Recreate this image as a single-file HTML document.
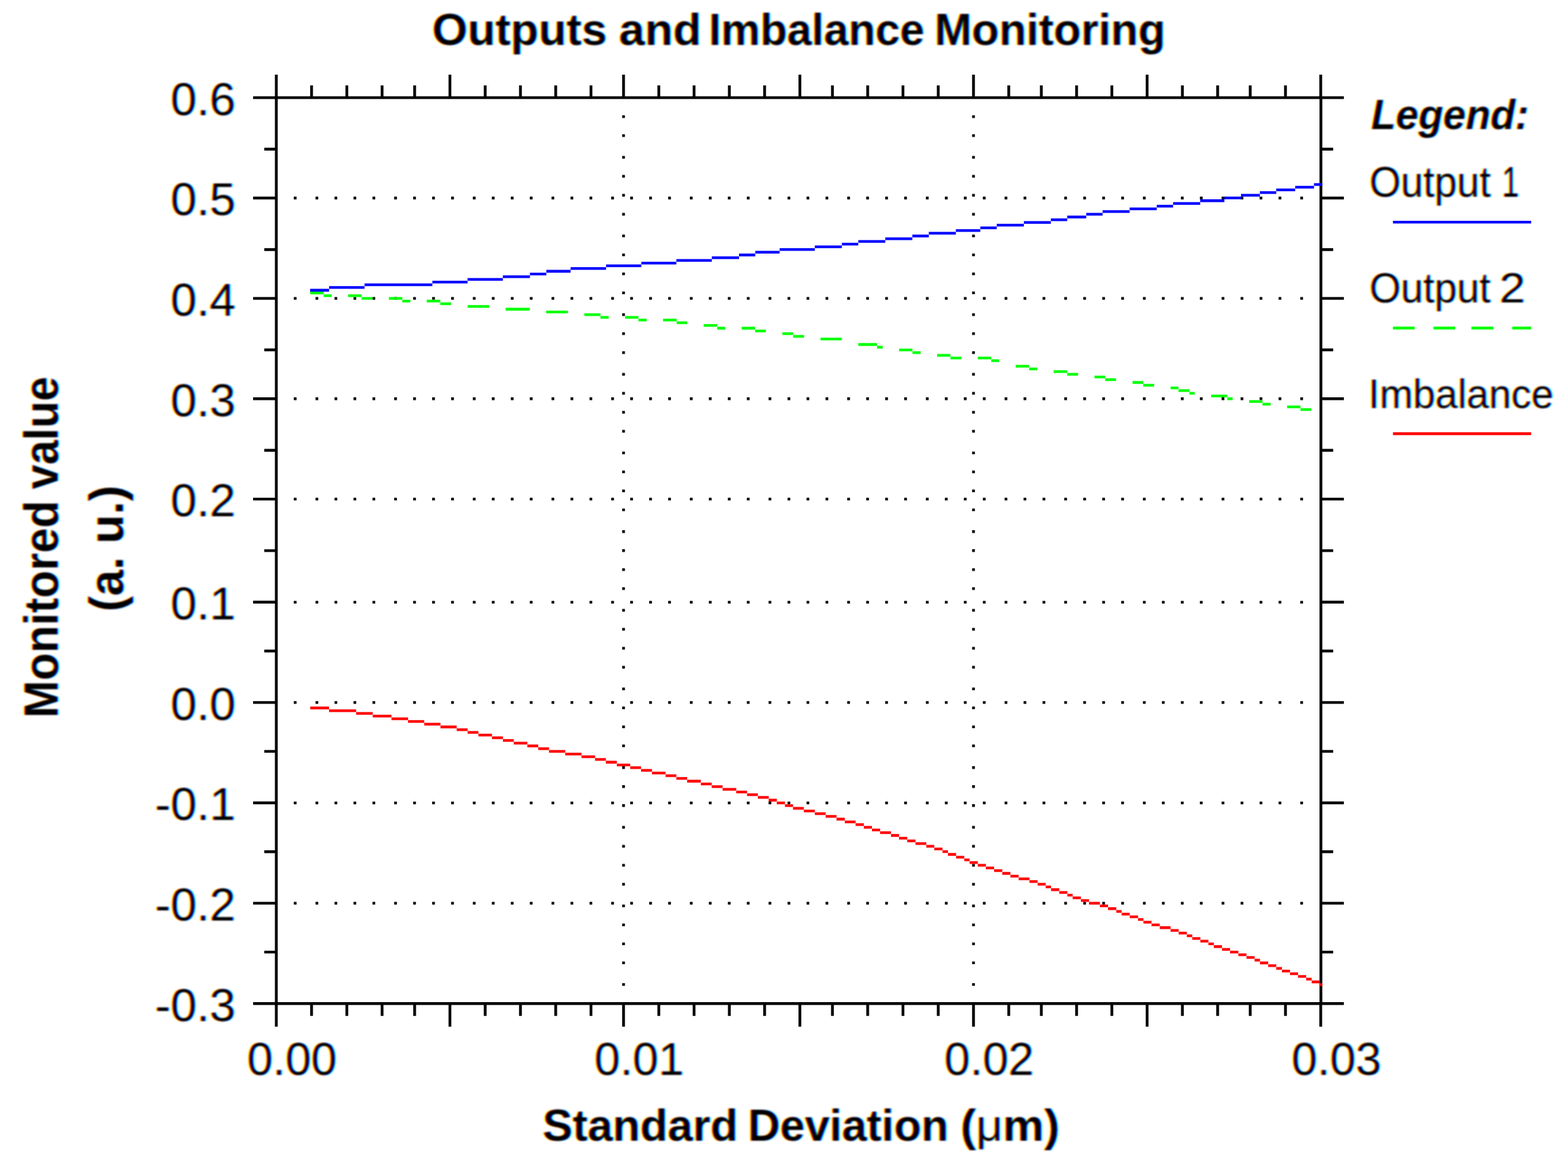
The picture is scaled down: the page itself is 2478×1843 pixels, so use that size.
<!DOCTYPE html>
<html><head><meta charset="utf-8"><title>Outputs and Imbalance Monitoring</title>
<style>html,body{margin:0;padding:0;background:#fff;overflow:hidden}svg{display:block}</style></head>
<body><svg width="2478" height="1843" viewBox="0 0 2478 1843" font-family="'Liberation Sans', Arial, sans-serif" fill="#000">
<defs><filter id="ct" x="-5%" y="-5%" width="110%" height="110%" color-interpolation-filters="sRGB">
<feOffset in="SourceAlpha" dx="2.0" result="r0"/><feGaussianBlur in="r0" stdDeviation="0.9" result="r"/>
<feOffset in="SourceAlpha" dx="-2.0" result="b0"/><feGaussianBlur in="b0" stdDeviation="0.9" result="b"/>
<feGaussianBlur in="SourceAlpha" stdDeviation="0.9" result="g"/>
<feColorMatrix in="r" type="matrix" values="0 0 0 -1 1 0 0 0 0 1 0 0 0 0 1 0 0 0 0 1" result="rc"/>
<feColorMatrix in="g" type="matrix" values="0 0 0 0 1 0 0 0 -1 1 0 0 0 0 1 0 0 0 0 1" result="gc"/>
<feColorMatrix in="b" type="matrix" values="0 0 0 0 1 0 0 0 0 1 0 0 0 -1 1 0 0 0 0 1" result="bc"/>
<feBlend in="rc" in2="gc" mode="multiply" result="rg"/><feBlend in="rg" in2="bc" mode="multiply" result="m"/><feColorMatrix in="m" type="saturate" values="0.85"/>
</filter></defs>
<rect width="2478" height="1843" fill="#fff"/>
<path d="M464.35,310.84h4.3v4.287h-4.3zM498.65,310.84h4.3v4.287h-4.3zM528.66,310.84h4.3v4.287h-4.3zM558.67,310.84h4.3v4.287h-4.3zM588.68,310.84h4.3v4.287h-4.3zM622.98,310.84h4.3v4.287h-4.3zM652.99,310.84h4.3v4.287h-4.3zM683.00,310.84h4.3v4.287h-4.3zM713.01,310.84h4.3v4.287h-4.3zM747.31,310.84h4.3v4.287h-4.3zM777.32,310.84h4.3v4.287h-4.3zM807.33,310.84h4.3v4.287h-4.3zM837.34,310.84h4.3v4.287h-4.3zM871.64,310.84h4.3v4.287h-4.3zM901.65,310.84h4.3v4.287h-4.3zM931.66,310.84h4.3v4.287h-4.3zM965.96,310.84h4.3v4.287h-4.3zM995.97,310.84h4.3v4.287h-4.3zM1025.98,310.84h4.3v4.287h-4.3zM1055.99,310.84h4.3v4.287h-4.3zM1090.29,310.84h4.3v4.287h-4.3zM1120.30,310.84h4.3v4.287h-4.3zM1150.31,310.84h4.3v4.287h-4.3zM1180.32,310.84h4.3v4.287h-4.3zM1214.62,310.84h4.3v4.287h-4.3zM1244.63,310.84h4.3v4.287h-4.3zM1274.65,310.84h4.3v4.287h-4.3zM1304.66,310.84h4.3v4.287h-4.3zM1338.95,310.84h4.3v4.287h-4.3zM1368.97,310.84h4.3v4.287h-4.3zM1398.98,310.84h4.3v4.287h-4.3zM1428.99,310.84h4.3v4.287h-4.3zM1463.29,310.84h4.3v4.287h-4.3zM1493.30,310.84h4.3v4.287h-4.3zM1523.31,310.84h4.3v4.287h-4.3zM1553.32,310.84h4.3v4.287h-4.3zM1587.62,310.84h4.3v4.287h-4.3zM1617.63,310.84h4.3v4.287h-4.3zM1647.64,310.84h4.3v4.287h-4.3zM1681.94,310.84h4.3v4.287h-4.3zM1711.95,310.84h4.3v4.287h-4.3zM1741.96,310.84h4.3v4.287h-4.3zM1771.97,310.84h4.3v4.287h-4.3zM1806.27,310.84h4.3v4.287h-4.3zM1836.28,310.84h4.3v4.287h-4.3zM1866.29,310.84h4.3v4.287h-4.3zM1896.30,310.84h4.3v4.287h-4.3zM1930.60,310.84h4.3v4.287h-4.3zM1960.61,310.84h4.3v4.287h-4.3zM1990.62,310.84h4.3v4.287h-4.3zM2020.63,310.84h4.3v4.287h-4.3zM2054.93,310.84h4.3v4.287h-4.3zM464.35,469.46h4.3v4.287h-4.3zM498.65,469.46h4.3v4.287h-4.3zM528.66,469.46h4.3v4.287h-4.3zM558.67,469.46h4.3v4.287h-4.3zM588.68,469.46h4.3v4.287h-4.3zM622.98,469.46h4.3v4.287h-4.3zM652.99,469.46h4.3v4.287h-4.3zM683.00,469.46h4.3v4.287h-4.3zM713.01,469.46h4.3v4.287h-4.3zM747.31,469.46h4.3v4.287h-4.3zM777.32,469.46h4.3v4.287h-4.3zM807.33,469.46h4.3v4.287h-4.3zM837.34,469.46h4.3v4.287h-4.3zM871.64,469.46h4.3v4.287h-4.3zM901.65,469.46h4.3v4.287h-4.3zM931.66,469.46h4.3v4.287h-4.3zM965.96,469.46h4.3v4.287h-4.3zM995.97,469.46h4.3v4.287h-4.3zM1025.98,469.46h4.3v4.287h-4.3zM1055.99,469.46h4.3v4.287h-4.3zM1090.29,469.46h4.3v4.287h-4.3zM1120.30,469.46h4.3v4.287h-4.3zM1150.31,469.46h4.3v4.287h-4.3zM1180.32,469.46h4.3v4.287h-4.3zM1214.62,469.46h4.3v4.287h-4.3zM1244.63,469.46h4.3v4.287h-4.3zM1274.65,469.46h4.3v4.287h-4.3zM1304.66,469.46h4.3v4.287h-4.3zM1338.95,469.46h4.3v4.287h-4.3zM1368.97,469.46h4.3v4.287h-4.3zM1398.98,469.46h4.3v4.287h-4.3zM1428.99,469.46h4.3v4.287h-4.3zM1463.29,469.46h4.3v4.287h-4.3zM1493.30,469.46h4.3v4.287h-4.3zM1523.31,469.46h4.3v4.287h-4.3zM1553.32,469.46h4.3v4.287h-4.3zM1587.62,469.46h4.3v4.287h-4.3zM1617.63,469.46h4.3v4.287h-4.3zM1647.64,469.46h4.3v4.287h-4.3zM1681.94,469.46h4.3v4.287h-4.3zM1711.95,469.46h4.3v4.287h-4.3zM1741.96,469.46h4.3v4.287h-4.3zM1771.97,469.46h4.3v4.287h-4.3zM1806.27,469.46h4.3v4.287h-4.3zM1836.28,469.46h4.3v4.287h-4.3zM1866.29,469.46h4.3v4.287h-4.3zM1896.30,469.46h4.3v4.287h-4.3zM1930.60,469.46h4.3v4.287h-4.3zM1960.61,469.46h4.3v4.287h-4.3zM1990.62,469.46h4.3v4.287h-4.3zM2020.63,469.46h4.3v4.287h-4.3zM2054.93,469.46h4.3v4.287h-4.3zM464.35,628.09h4.3v4.287h-4.3zM498.65,628.09h4.3v4.287h-4.3zM528.66,628.09h4.3v4.287h-4.3zM558.67,628.09h4.3v4.287h-4.3zM588.68,628.09h4.3v4.287h-4.3zM622.98,628.09h4.3v4.287h-4.3zM652.99,628.09h4.3v4.287h-4.3zM683.00,628.09h4.3v4.287h-4.3zM713.01,628.09h4.3v4.287h-4.3zM747.31,628.09h4.3v4.287h-4.3zM777.32,628.09h4.3v4.287h-4.3zM807.33,628.09h4.3v4.287h-4.3zM837.34,628.09h4.3v4.287h-4.3zM871.64,628.09h4.3v4.287h-4.3zM901.65,628.09h4.3v4.287h-4.3zM931.66,628.09h4.3v4.287h-4.3zM965.96,628.09h4.3v4.287h-4.3zM995.97,628.09h4.3v4.287h-4.3zM1025.98,628.09h4.3v4.287h-4.3zM1055.99,628.09h4.3v4.287h-4.3zM1090.29,628.09h4.3v4.287h-4.3zM1120.30,628.09h4.3v4.287h-4.3zM1150.31,628.09h4.3v4.287h-4.3zM1180.32,628.09h4.3v4.287h-4.3zM1214.62,628.09h4.3v4.287h-4.3zM1244.63,628.09h4.3v4.287h-4.3zM1274.65,628.09h4.3v4.287h-4.3zM1304.66,628.09h4.3v4.287h-4.3zM1338.95,628.09h4.3v4.287h-4.3zM1368.97,628.09h4.3v4.287h-4.3zM1398.98,628.09h4.3v4.287h-4.3zM1428.99,628.09h4.3v4.287h-4.3zM1463.29,628.09h4.3v4.287h-4.3zM1493.30,628.09h4.3v4.287h-4.3zM1523.31,628.09h4.3v4.287h-4.3zM1553.32,628.09h4.3v4.287h-4.3zM1587.62,628.09h4.3v4.287h-4.3zM1617.63,628.09h4.3v4.287h-4.3zM1647.64,628.09h4.3v4.287h-4.3zM1681.94,628.09h4.3v4.287h-4.3zM1711.95,628.09h4.3v4.287h-4.3zM1741.96,628.09h4.3v4.287h-4.3zM1771.97,628.09h4.3v4.287h-4.3zM1806.27,628.09h4.3v4.287h-4.3zM1836.28,628.09h4.3v4.287h-4.3zM1866.29,628.09h4.3v4.287h-4.3zM1896.30,628.09h4.3v4.287h-4.3zM1930.60,628.09h4.3v4.287h-4.3zM1960.61,628.09h4.3v4.287h-4.3zM1990.62,628.09h4.3v4.287h-4.3zM2020.63,628.09h4.3v4.287h-4.3zM2054.93,628.09h4.3v4.287h-4.3zM464.35,786.72h4.3v4.287h-4.3zM498.65,786.72h4.3v4.287h-4.3zM528.66,786.72h4.3v4.287h-4.3zM558.67,786.72h4.3v4.287h-4.3zM588.68,786.72h4.3v4.287h-4.3zM622.98,786.72h4.3v4.287h-4.3zM652.99,786.72h4.3v4.287h-4.3zM683.00,786.72h4.3v4.287h-4.3zM713.01,786.72h4.3v4.287h-4.3zM747.31,786.72h4.3v4.287h-4.3zM777.32,786.72h4.3v4.287h-4.3zM807.33,786.72h4.3v4.287h-4.3zM837.34,786.72h4.3v4.287h-4.3zM871.64,786.72h4.3v4.287h-4.3zM901.65,786.72h4.3v4.287h-4.3zM931.66,786.72h4.3v4.287h-4.3zM965.96,786.72h4.3v4.287h-4.3zM995.97,786.72h4.3v4.287h-4.3zM1025.98,786.72h4.3v4.287h-4.3zM1055.99,786.72h4.3v4.287h-4.3zM1090.29,786.72h4.3v4.287h-4.3zM1120.30,786.72h4.3v4.287h-4.3zM1150.31,786.72h4.3v4.287h-4.3zM1180.32,786.72h4.3v4.287h-4.3zM1214.62,786.72h4.3v4.287h-4.3zM1244.63,786.72h4.3v4.287h-4.3zM1274.65,786.72h4.3v4.287h-4.3zM1304.66,786.72h4.3v4.287h-4.3zM1338.95,786.72h4.3v4.287h-4.3zM1368.97,786.72h4.3v4.287h-4.3zM1398.98,786.72h4.3v4.287h-4.3zM1428.99,786.72h4.3v4.287h-4.3zM1463.29,786.72h4.3v4.287h-4.3zM1493.30,786.72h4.3v4.287h-4.3zM1523.31,786.72h4.3v4.287h-4.3zM1553.32,786.72h4.3v4.287h-4.3zM1587.62,786.72h4.3v4.287h-4.3zM1617.63,786.72h4.3v4.287h-4.3zM1647.64,786.72h4.3v4.287h-4.3zM1681.94,786.72h4.3v4.287h-4.3zM1711.95,786.72h4.3v4.287h-4.3zM1741.96,786.72h4.3v4.287h-4.3zM1771.97,786.72h4.3v4.287h-4.3zM1806.27,786.72h4.3v4.287h-4.3zM1836.28,786.72h4.3v4.287h-4.3zM1866.29,786.72h4.3v4.287h-4.3zM1896.30,786.72h4.3v4.287h-4.3zM1930.60,786.72h4.3v4.287h-4.3zM1960.61,786.72h4.3v4.287h-4.3zM1990.62,786.72h4.3v4.287h-4.3zM2020.63,786.72h4.3v4.287h-4.3zM2054.93,786.72h4.3v4.287h-4.3zM464.35,949.64h4.3v4.287h-4.3zM498.65,949.64h4.3v4.287h-4.3zM528.66,949.64h4.3v4.287h-4.3zM558.67,949.64h4.3v4.287h-4.3zM588.68,949.64h4.3v4.287h-4.3zM622.98,949.64h4.3v4.287h-4.3zM652.99,949.64h4.3v4.287h-4.3zM683.00,949.64h4.3v4.287h-4.3zM713.01,949.64h4.3v4.287h-4.3zM747.31,949.64h4.3v4.287h-4.3zM777.32,949.64h4.3v4.287h-4.3zM807.33,949.64h4.3v4.287h-4.3zM837.34,949.64h4.3v4.287h-4.3zM871.64,949.64h4.3v4.287h-4.3zM901.65,949.64h4.3v4.287h-4.3zM931.66,949.64h4.3v4.287h-4.3zM965.96,949.64h4.3v4.287h-4.3zM995.97,949.64h4.3v4.287h-4.3zM1025.98,949.64h4.3v4.287h-4.3zM1055.99,949.64h4.3v4.287h-4.3zM1090.29,949.64h4.3v4.287h-4.3zM1120.30,949.64h4.3v4.287h-4.3zM1150.31,949.64h4.3v4.287h-4.3zM1180.32,949.64h4.3v4.287h-4.3zM1214.62,949.64h4.3v4.287h-4.3zM1244.63,949.64h4.3v4.287h-4.3zM1274.65,949.64h4.3v4.287h-4.3zM1304.66,949.64h4.3v4.287h-4.3zM1338.95,949.64h4.3v4.287h-4.3zM1368.97,949.64h4.3v4.287h-4.3zM1398.98,949.64h4.3v4.287h-4.3zM1428.99,949.64h4.3v4.287h-4.3zM1463.29,949.64h4.3v4.287h-4.3zM1493.30,949.64h4.3v4.287h-4.3zM1523.31,949.64h4.3v4.287h-4.3zM1553.32,949.64h4.3v4.287h-4.3zM1587.62,949.64h4.3v4.287h-4.3zM1617.63,949.64h4.3v4.287h-4.3zM1647.64,949.64h4.3v4.287h-4.3zM1681.94,949.64h4.3v4.287h-4.3zM1711.95,949.64h4.3v4.287h-4.3zM1741.96,949.64h4.3v4.287h-4.3zM1771.97,949.64h4.3v4.287h-4.3zM1806.27,949.64h4.3v4.287h-4.3zM1836.28,949.64h4.3v4.287h-4.3zM1866.29,949.64h4.3v4.287h-4.3zM1896.30,949.64h4.3v4.287h-4.3zM1930.60,949.64h4.3v4.287h-4.3zM1960.61,949.64h4.3v4.287h-4.3zM1990.62,949.64h4.3v4.287h-4.3zM2020.63,949.64h4.3v4.287h-4.3zM2054.93,949.64h4.3v4.287h-4.3zM464.35,1108.27h4.3v4.287h-4.3zM498.65,1108.27h4.3v4.287h-4.3zM528.66,1108.27h4.3v4.287h-4.3zM558.67,1108.27h4.3v4.287h-4.3zM588.68,1108.27h4.3v4.287h-4.3zM622.98,1108.27h4.3v4.287h-4.3zM652.99,1108.27h4.3v4.287h-4.3zM683.00,1108.27h4.3v4.287h-4.3zM713.01,1108.27h4.3v4.287h-4.3zM747.31,1108.27h4.3v4.287h-4.3zM777.32,1108.27h4.3v4.287h-4.3zM807.33,1108.27h4.3v4.287h-4.3zM837.34,1108.27h4.3v4.287h-4.3zM871.64,1108.27h4.3v4.287h-4.3zM901.65,1108.27h4.3v4.287h-4.3zM931.66,1108.27h4.3v4.287h-4.3zM965.96,1108.27h4.3v4.287h-4.3zM995.97,1108.27h4.3v4.287h-4.3zM1025.98,1108.27h4.3v4.287h-4.3zM1055.99,1108.27h4.3v4.287h-4.3zM1090.29,1108.27h4.3v4.287h-4.3zM1120.30,1108.27h4.3v4.287h-4.3zM1150.31,1108.27h4.3v4.287h-4.3zM1180.32,1108.27h4.3v4.287h-4.3zM1214.62,1108.27h4.3v4.287h-4.3zM1244.63,1108.27h4.3v4.287h-4.3zM1274.65,1108.27h4.3v4.287h-4.3zM1304.66,1108.27h4.3v4.287h-4.3zM1338.95,1108.27h4.3v4.287h-4.3zM1368.97,1108.27h4.3v4.287h-4.3zM1398.98,1108.27h4.3v4.287h-4.3zM1428.99,1108.27h4.3v4.287h-4.3zM1463.29,1108.27h4.3v4.287h-4.3zM1493.30,1108.27h4.3v4.287h-4.3zM1523.31,1108.27h4.3v4.287h-4.3zM1553.32,1108.27h4.3v4.287h-4.3zM1587.62,1108.27h4.3v4.287h-4.3zM1617.63,1108.27h4.3v4.287h-4.3zM1647.64,1108.27h4.3v4.287h-4.3zM1681.94,1108.27h4.3v4.287h-4.3zM1711.95,1108.27h4.3v4.287h-4.3zM1741.96,1108.27h4.3v4.287h-4.3zM1771.97,1108.27h4.3v4.287h-4.3zM1806.27,1108.27h4.3v4.287h-4.3zM1836.28,1108.27h4.3v4.287h-4.3zM1866.29,1108.27h4.3v4.287h-4.3zM1896.30,1108.27h4.3v4.287h-4.3zM1930.60,1108.27h4.3v4.287h-4.3zM1960.61,1108.27h4.3v4.287h-4.3zM1990.62,1108.27h4.3v4.287h-4.3zM2020.63,1108.27h4.3v4.287h-4.3zM2054.93,1108.27h4.3v4.287h-4.3zM464.35,1266.90h4.3v4.287h-4.3zM498.65,1266.90h4.3v4.287h-4.3zM528.66,1266.90h4.3v4.287h-4.3zM558.67,1266.90h4.3v4.287h-4.3zM588.68,1266.90h4.3v4.287h-4.3zM622.98,1266.90h4.3v4.287h-4.3zM652.99,1266.90h4.3v4.287h-4.3zM683.00,1266.90h4.3v4.287h-4.3zM713.01,1266.90h4.3v4.287h-4.3zM747.31,1266.90h4.3v4.287h-4.3zM777.32,1266.90h4.3v4.287h-4.3zM807.33,1266.90h4.3v4.287h-4.3zM837.34,1266.90h4.3v4.287h-4.3zM871.64,1266.90h4.3v4.287h-4.3zM901.65,1266.90h4.3v4.287h-4.3zM931.66,1266.90h4.3v4.287h-4.3zM965.96,1266.90h4.3v4.287h-4.3zM995.97,1266.90h4.3v4.287h-4.3zM1025.98,1266.90h4.3v4.287h-4.3zM1055.99,1266.90h4.3v4.287h-4.3zM1090.29,1266.90h4.3v4.287h-4.3zM1120.30,1266.90h4.3v4.287h-4.3zM1150.31,1266.90h4.3v4.287h-4.3zM1180.32,1266.90h4.3v4.287h-4.3zM1214.62,1266.90h4.3v4.287h-4.3zM1244.63,1266.90h4.3v4.287h-4.3zM1274.65,1266.90h4.3v4.287h-4.3zM1304.66,1266.90h4.3v4.287h-4.3zM1338.95,1266.90h4.3v4.287h-4.3zM1368.97,1266.90h4.3v4.287h-4.3zM1398.98,1266.90h4.3v4.287h-4.3zM1428.99,1266.90h4.3v4.287h-4.3zM1463.29,1266.90h4.3v4.287h-4.3zM1493.30,1266.90h4.3v4.287h-4.3zM1523.31,1266.90h4.3v4.287h-4.3zM1553.32,1266.90h4.3v4.287h-4.3zM1587.62,1266.90h4.3v4.287h-4.3zM1617.63,1266.90h4.3v4.287h-4.3zM1647.64,1266.90h4.3v4.287h-4.3zM1681.94,1266.90h4.3v4.287h-4.3zM1711.95,1266.90h4.3v4.287h-4.3zM1741.96,1266.90h4.3v4.287h-4.3zM1771.97,1266.90h4.3v4.287h-4.3zM1806.27,1266.90h4.3v4.287h-4.3zM1836.28,1266.90h4.3v4.287h-4.3zM1866.29,1266.90h4.3v4.287h-4.3zM1896.30,1266.90h4.3v4.287h-4.3zM1930.60,1266.90h4.3v4.287h-4.3zM1960.61,1266.90h4.3v4.287h-4.3zM1990.62,1266.90h4.3v4.287h-4.3zM2020.63,1266.90h4.3v4.287h-4.3zM2054.93,1266.90h4.3v4.287h-4.3zM464.35,1425.53h4.3v4.287h-4.3zM498.65,1425.53h4.3v4.287h-4.3zM528.66,1425.53h4.3v4.287h-4.3zM558.67,1425.53h4.3v4.287h-4.3zM588.68,1425.53h4.3v4.287h-4.3zM622.98,1425.53h4.3v4.287h-4.3zM652.99,1425.53h4.3v4.287h-4.3zM683.00,1425.53h4.3v4.287h-4.3zM713.01,1425.53h4.3v4.287h-4.3zM747.31,1425.53h4.3v4.287h-4.3zM777.32,1425.53h4.3v4.287h-4.3zM807.33,1425.53h4.3v4.287h-4.3zM837.34,1425.53h4.3v4.287h-4.3zM871.64,1425.53h4.3v4.287h-4.3zM901.65,1425.53h4.3v4.287h-4.3zM931.66,1425.53h4.3v4.287h-4.3zM965.96,1425.53h4.3v4.287h-4.3zM995.97,1425.53h4.3v4.287h-4.3zM1025.98,1425.53h4.3v4.287h-4.3zM1055.99,1425.53h4.3v4.287h-4.3zM1090.29,1425.53h4.3v4.287h-4.3zM1120.30,1425.53h4.3v4.287h-4.3zM1150.31,1425.53h4.3v4.287h-4.3zM1180.32,1425.53h4.3v4.287h-4.3zM1214.62,1425.53h4.3v4.287h-4.3zM1244.63,1425.53h4.3v4.287h-4.3zM1274.65,1425.53h4.3v4.287h-4.3zM1304.66,1425.53h4.3v4.287h-4.3zM1338.95,1425.53h4.3v4.287h-4.3zM1368.97,1425.53h4.3v4.287h-4.3zM1398.98,1425.53h4.3v4.287h-4.3zM1428.99,1425.53h4.3v4.287h-4.3zM1463.29,1425.53h4.3v4.287h-4.3zM1493.30,1425.53h4.3v4.287h-4.3zM1523.31,1425.53h4.3v4.287h-4.3zM1553.32,1425.53h4.3v4.287h-4.3zM1587.62,1425.53h4.3v4.287h-4.3zM1617.63,1425.53h4.3v4.287h-4.3zM1647.64,1425.53h4.3v4.287h-4.3zM1681.94,1425.53h4.3v4.287h-4.3zM1711.95,1425.53h4.3v4.287h-4.3zM1741.96,1425.53h4.3v4.287h-4.3zM1771.97,1425.53h4.3v4.287h-4.3zM1806.27,1425.53h4.3v4.287h-4.3zM1836.28,1425.53h4.3v4.287h-4.3zM1866.29,1425.53h4.3v4.287h-4.3zM1896.30,1425.53h4.3v4.287h-4.3zM1930.60,1425.53h4.3v4.287h-4.3zM1960.61,1425.53h4.3v4.287h-4.3zM1990.62,1425.53h4.3v4.287h-4.3zM2020.63,1425.53h4.3v4.287h-4.3zM2054.93,1425.53h4.3v4.287h-4.3zM983.27,182.16h4.3v4.287h-4.3zM983.27,212.17h4.3v4.287h-4.3zM983.27,246.47h4.3v4.287h-4.3zM983.27,276.48h4.3v4.287h-4.3zM983.27,306.49h4.3v4.287h-4.3zM983.27,336.50h4.3v4.287h-4.3zM983.27,370.80h4.3v4.287h-4.3zM983.27,400.81h4.3v4.287h-4.3zM983.27,430.82h4.3v4.287h-4.3zM983.27,460.83h4.3v4.287h-4.3zM983.27,495.13h4.3v4.287h-4.3zM983.27,525.14h4.3v4.287h-4.3zM983.27,555.15h4.3v4.287h-4.3zM983.27,589.45h4.3v4.287h-4.3zM983.27,619.46h4.3v4.287h-4.3zM983.27,649.47h4.3v4.287h-4.3zM983.27,679.48h4.3v4.287h-4.3zM983.27,713.78h4.3v4.287h-4.3zM983.27,743.79h4.3v4.287h-4.3zM983.27,773.80h4.3v4.287h-4.3zM983.27,803.81h4.3v4.287h-4.3zM983.27,838.11h4.3v4.287h-4.3zM983.27,868.12h4.3v4.287h-4.3zM983.27,898.13h4.3v4.287h-4.3zM983.27,928.14h4.3v4.287h-4.3zM983.27,962.44h4.3v4.287h-4.3zM983.27,992.45h4.3v4.287h-4.3zM983.27,1022.46h4.3v4.287h-4.3zM983.27,1052.47h4.3v4.287h-4.3zM983.27,1086.77h4.3v4.287h-4.3zM983.27,1116.78h4.3v4.287h-4.3zM983.27,1146.79h4.3v4.287h-4.3zM983.27,1176.80h4.3v4.287h-4.3zM983.27,1211.10h4.3v4.287h-4.3zM983.27,1241.11h4.3v4.287h-4.3zM983.27,1271.12h4.3v4.287h-4.3zM983.27,1305.42h4.3v4.287h-4.3zM983.27,1335.43h4.3v4.287h-4.3zM983.27,1365.44h4.3v4.287h-4.3zM983.27,1395.46h4.3v4.287h-4.3zM983.27,1429.75h4.3v4.287h-4.3zM983.27,1459.76h4.3v4.287h-4.3zM983.27,1489.78h4.3v4.287h-4.3zM983.27,1519.79h4.3v4.287h-4.3zM983.27,1554.08h4.3v4.287h-4.3zM1536.33,182.16h4.3v4.287h-4.3zM1536.33,212.17h4.3v4.287h-4.3zM1536.33,246.47h4.3v4.287h-4.3zM1536.33,276.48h4.3v4.287h-4.3zM1536.33,306.49h4.3v4.287h-4.3zM1536.33,336.50h4.3v4.287h-4.3zM1536.33,370.80h4.3v4.287h-4.3zM1536.33,400.81h4.3v4.287h-4.3zM1536.33,430.82h4.3v4.287h-4.3zM1536.33,460.83h4.3v4.287h-4.3zM1536.33,495.13h4.3v4.287h-4.3zM1536.33,525.14h4.3v4.287h-4.3zM1536.33,555.15h4.3v4.287h-4.3zM1536.33,589.45h4.3v4.287h-4.3zM1536.33,619.46h4.3v4.287h-4.3zM1536.33,649.47h4.3v4.287h-4.3zM1536.33,679.48h4.3v4.287h-4.3zM1536.33,713.78h4.3v4.287h-4.3zM1536.33,743.79h4.3v4.287h-4.3zM1536.33,773.80h4.3v4.287h-4.3zM1536.33,803.81h4.3v4.287h-4.3zM1536.33,838.11h4.3v4.287h-4.3zM1536.33,868.12h4.3v4.287h-4.3zM1536.33,898.13h4.3v4.287h-4.3zM1536.33,928.14h4.3v4.287h-4.3zM1536.33,962.44h4.3v4.287h-4.3zM1536.33,992.45h4.3v4.287h-4.3zM1536.33,1022.46h4.3v4.287h-4.3zM1536.33,1052.47h4.3v4.287h-4.3zM1536.33,1086.77h4.3v4.287h-4.3zM1536.33,1116.78h4.3v4.287h-4.3zM1536.33,1146.79h4.3v4.287h-4.3zM1536.33,1176.80h4.3v4.287h-4.3zM1536.33,1211.10h4.3v4.287h-4.3zM1536.33,1241.11h4.3v4.287h-4.3zM1536.33,1271.12h4.3v4.287h-4.3zM1536.33,1305.42h4.3v4.287h-4.3zM1536.33,1335.43h4.3v4.287h-4.3zM1536.33,1365.44h4.3v4.287h-4.3zM1536.33,1395.46h4.3v4.287h-4.3zM1536.33,1429.75h4.3v4.287h-4.3zM1536.33,1459.76h4.3v4.287h-4.3zM1536.33,1489.78h4.3v4.287h-4.3zM1536.33,1519.79h4.3v4.287h-4.3zM1536.33,1554.08h4.3v4.287h-4.3z" fill="#000"/>
<path d="M436.65,152.15V1588.50M2087.50,152.15V1588.50M434.45,154.35H2089.70M434.45,1586.30H2089.70M436.65,118V154.35M436.65,1586.30V1622.8M492.38,135V154.35M492.38,1586.30V1605.8M548.12,135V154.35M548.12,1586.30V1605.8M603.85,135V154.35M603.85,1586.30V1605.8M655.30,135V154.35M655.30,1586.30V1605.8M711.04,118V154.35M711.04,1586.30V1622.8M766.77,135V154.35M766.77,1586.30V1605.8M822.50,135V154.35M822.50,1586.30V1605.8M878.24,135V154.35M878.24,1586.30V1605.8M933.97,135V154.35M933.97,1586.30V1605.8M985.42,118V154.35M985.42,1586.30V1622.8M1041.16,135V154.35M1041.16,1586.30V1605.8M1096.89,135V154.35M1096.89,1586.30V1605.8M1152.62,135V154.35M1152.62,1586.30V1605.8M1208.36,135V154.35M1208.36,1586.30V1605.8M1264.09,118V154.35M1264.09,1586.30V1622.8M1315.54,135V154.35M1315.54,1586.30V1605.8M1371.28,135V154.35M1371.28,1586.30V1605.8M1427.01,135V154.35M1427.01,1586.30V1605.8M1482.75,135V154.35M1482.75,1586.30V1605.8M1538.48,118V154.35M1538.48,1586.30V1622.8M1594.21,135V154.35M1594.21,1586.30V1605.8M1645.66,135V154.35M1645.66,1586.30V1605.8M1701.40,135V154.35M1701.40,1586.30V1605.8M1757.13,135V154.35M1757.13,1586.30V1605.8M1812.87,118V154.35M1812.87,1586.30V1622.8M1868.60,135V154.35M1868.60,1586.30V1605.8M1924.33,135V154.35M1924.33,1586.30V1605.8M1975.78,135V154.35M1975.78,1586.30V1605.8M2031.52,135V154.35M2031.52,1586.30V1605.8M2087.25,118V154.35M2087.25,1586.30V1622.8M400,154.35H436.65M2087.50,154.35H2123.8M417.6,235.81H436.65M2087.50,235.81H2106.9M400,312.98H436.65M2087.50,312.98H2123.8M417.6,394.44H436.65M2087.50,394.44H2106.9M400,471.61H436.65M2087.50,471.61H2123.8M417.6,553.07H436.65M2087.50,553.07H2106.9M400,630.24H436.65M2087.50,630.24H2123.8M417.6,711.70H436.65M2087.50,711.70H2106.9M400,788.87H436.65M2087.50,788.87H2123.8M417.6,870.33H436.65M2087.50,870.33H2106.9M400,951.78H436.65M2087.50,951.78H2123.8M417.6,1028.95H436.65M2087.50,1028.95H2106.9M400,1110.41H436.65M2087.50,1110.41H2123.8M417.6,1187.58H436.65M2087.50,1187.58H2106.9M400,1269.04H436.65M2087.50,1269.04H2123.8M417.6,1346.21H436.65M2087.50,1346.21H2106.9M400,1427.67H436.65M2087.50,1427.67H2123.8M417.6,1504.84H436.65M2087.50,1504.84H2106.9M400,1586.30H436.65M2087.50,1586.30H2123.8" stroke="#000" stroke-width="4.4" fill="none"/>
<path d="M490.1,456.60H520.1V460.89H490.1ZM520.1,452.32H576.1V456.60H520.1ZM576.1,448.03H683.3V452.32H576.1ZM683.3,443.74H738.9V448.03H683.3ZM738.9,439.45H794.7V443.74H738.9ZM794.7,435.17H837.5V439.45H794.7ZM837.5,430.88H863.4V435.17H837.5ZM863.4,426.59H901.7V430.88H863.4ZM901.7,422.30H957.8V426.59H901.7ZM957.8,418.02H1013.5V422.30H957.8ZM1013.5,413.73H1068.9V418.02H1013.5ZM1068.9,409.44H1124.9V413.73H1068.9ZM1124.9,405.16H1167.9V409.44H1124.9ZM1167.9,400.87H1193.6V405.16H1167.9ZM1193.6,396.58H1232.1V400.87H1193.6ZM1232.1,392.29H1287.7V396.58H1232.1ZM1287.7,388.01H1330.5V392.29H1287.7ZM1330.5,383.72H1356.4V388.01H1330.5ZM1356.4,379.43H1399.1V383.72H1356.4ZM1399.1,375.14H1441.8V379.43H1399.1ZM1441.8,370.86H1467.8V375.14H1441.8ZM1467.8,366.57H1510.6V370.86H1467.8ZM1510.6,362.28H1549.3V366.57H1510.6ZM1549.3,358.00H1575.2V362.28H1549.3ZM1575.2,353.71H1618.0V358.00H1575.2ZM1618.0,349.42H1660.7V353.71H1618.0ZM1660.7,345.13H1686.6V349.42H1660.7ZM1686.6,340.85H1716.6V345.13H1686.6ZM1716.6,336.56H1742.5V340.85H1716.6ZM1742.5,332.27H1785.2V336.56H1742.5ZM1785.2,327.98H1828.0V332.27H1785.2ZM1828.0,323.70H1853.9V327.98H1828.0ZM1853.9,319.41H1896.7V323.70H1853.9ZM1896.7,315.12H1935.0V319.41H1896.7ZM1935.0,310.84H1961.2V315.12H1935.0ZM1961.2,306.55H1991.0V310.84H1961.2ZM1991.0,302.26H2017.0V306.55H1991.0ZM2017.0,297.97H2046.9V302.26H2017.0ZM2046.9,293.69H2076.6V297.97H2046.9ZM2076.6,289.40H2089.9V293.69H2076.6Z" fill="#0000ff"/>
<path d="M490.3,460.89H511.5V465.18H490.3ZM511.5,465.18H524.2V469.46H511.5ZM550.2,465.18H571.5V469.46H550.2ZM571.5,469.46H588.7V473.75H571.5ZM614.7,469.46H635.8V473.75H614.7ZM635.8,473.75H648.5V478.04H635.8ZM674.5,473.75H695.8V478.04H674.5ZM695.8,478.04H713.0V482.33H695.8ZM739.0,482.33H773.1V486.61H739.0ZM799.1,486.61H837.2V490.90H799.1ZM863.2,490.90H897.5V495.19H863.2ZM923.5,495.19H948.9V499.48H923.5ZM948.9,499.48H961.9V503.76H948.9ZM987.9,499.48H1009.0V503.76H987.9ZM1009.0,503.76H1022.0V508.05H1009.0ZM1048.0,503.76H1069.4V508.05H1048.0ZM1069.4,508.05H1086.1V512.34H1069.4ZM1112.1,512.34H1133.5V516.62H1112.1ZM1133.5,516.62H1146.2V520.91H1133.5ZM1172.2,516.62H1193.4V520.91H1172.2ZM1193.4,520.91H1210.4V525.20H1193.4ZM1236.4,525.20H1253.5V529.49H1236.4ZM1253.5,529.49H1270.7V533.77H1253.5ZM1296.7,533.77H1330.4V538.06H1296.7ZM1356.4,542.35H1386.1V546.64H1356.4ZM1386.1,546.64H1395.0V550.92H1386.1ZM1421.0,550.92H1442.0V555.21H1421.0ZM1442.0,555.21H1454.9V559.50H1442.0ZM1480.9,559.50H1502.1V563.78H1480.9ZM1502.1,563.78H1519.3V568.07H1502.1ZM1545.3,563.78H1566.5V568.07H1545.3ZM1566.5,568.07H1579.2V572.36H1566.5ZM1605.2,576.65H1626.4V580.93H1605.2ZM1626.4,580.93H1639.1V585.22H1626.4ZM1665.1,585.22H1686.5V589.51H1665.1ZM1686.5,589.51H1703.7V593.80H1686.5ZM1729.7,593.80H1746.6V598.08H1729.7ZM1746.6,598.08H1763.8V602.37H1746.6ZM1789.8,602.37H1806.7V606.66H1789.8ZM1806.7,606.66H1824.0V610.94H1806.7ZM1850.0,610.94H1862.4V615.23H1850.0ZM1862.4,615.23H1879.7V619.52H1862.4ZM1879.7,619.52H1888.1V623.81H1879.7ZM1914.1,623.81H1939.5V628.09H1914.1ZM1939.5,628.09H1948.0V632.38H1939.5ZM1974.0,632.38H1995.2V636.67H1974.0ZM1995.2,636.67H2008.1V640.96H1995.2ZM2034.1,640.96H2055.3V645.24H2034.1ZM2055.3,645.24H2072.5V649.53H2055.3Z" fill="#00ff00"/>
<path d="M490.3,1116.84H520.0V1121.13H490.3ZM520.0,1121.13H562.8V1125.42H520.0ZM562.8,1125.42H589.0V1129.71H562.8ZM589.0,1129.71H618.7V1133.99H589.0ZM618.7,1133.99H644.8V1138.28H618.7ZM644.8,1138.28H670.4V1142.57H644.8ZM670.4,1142.57H696.1V1146.85H670.4ZM696.1,1146.85H721.7V1151.14H696.1ZM721.7,1151.14H739.0V1155.43H721.7ZM739.0,1155.43H756.1V1159.72H739.0ZM756.1,1159.72H777.5V1164.00H756.1ZM777.5,1164.00H794.8V1168.29H777.5ZM794.8,1168.29H811.9V1172.58H794.8ZM811.9,1172.58H833.4V1176.87H811.9ZM833.4,1176.87H850.5V1181.15H833.4ZM850.5,1181.15H867.6V1185.44H850.5ZM867.6,1185.44H893.3V1189.73H867.6ZM893.3,1189.73H919.0V1194.01H893.3ZM919.0,1194.01H940.4V1198.30H919.0ZM940.4,1198.30H957.5V1202.59H940.4ZM957.5,1202.59H974.8V1206.88H957.5ZM974.8,1206.88H996.0V1211.16H974.8ZM996.0,1211.16H1013.1V1215.45H996.0ZM1013.1,1215.45H1030.4V1219.74H1013.1ZM1030.4,1219.74H1051.8V1224.03H1030.4ZM1051.8,1224.03H1068.9V1228.31H1051.8ZM1068.9,1228.31H1086.0V1232.60H1068.9ZM1086.0,1232.60H1107.6V1236.89H1086.0ZM1107.6,1236.89H1124.7V1241.17H1107.6ZM1124.7,1241.17H1141.9V1245.46H1124.7ZM1141.9,1245.46H1163.5V1249.75H1141.9ZM1163.5,1249.75H1180.6V1254.04H1163.5ZM1180.6,1254.04H1197.7V1258.32H1180.6ZM1197.7,1258.32H1214.8V1262.61H1197.7ZM1214.8,1262.61H1227.6V1266.90H1214.8ZM1227.6,1266.90H1240.5V1271.19H1227.6ZM1240.5,1271.19H1253.3V1275.47H1240.5ZM1253.3,1275.47H1270.4V1279.76H1253.3ZM1270.4,1279.76H1287.7V1284.05H1270.4ZM1287.7,1284.05H1304.8V1288.33H1287.7ZM1304.8,1288.33H1322.0V1292.62H1304.8ZM1322.0,1292.62H1335.1V1296.91H1322.0ZM1335.1,1296.91H1352.2V1301.20H1335.1ZM1352.2,1301.20H1365.2V1305.48H1352.2ZM1365.2,1305.48H1378.0V1309.77H1365.2ZM1378.0,1309.77H1390.9V1314.06H1378.0ZM1390.9,1314.06H1408.1V1318.35H1390.9ZM1408.1,1318.35H1420.8V1322.63H1408.1ZM1420.8,1322.63H1433.8V1326.92H1420.8ZM1433.8,1326.92H1446.8V1331.21H1433.8ZM1446.8,1331.21H1463.9V1335.49H1446.8ZM1463.9,1335.49H1476.5V1339.78H1463.9ZM1476.5,1339.78H1489.5V1344.07H1476.5ZM1489.5,1344.07H1498.1V1348.36H1489.5ZM1498.1,1348.36H1511.1V1352.64H1498.1ZM1511.1,1352.64H1523.9V1356.93H1511.1ZM1523.9,1356.93H1532.3V1361.22H1523.9ZM1532.3,1361.22H1545.3V1365.51H1532.3ZM1545.3,1365.51H1558.1V1369.79H1545.3ZM1558.1,1369.79H1571.1V1374.08H1558.1ZM1571.1,1374.08H1584.0V1378.37H1571.1ZM1584.0,1378.37H1596.8V1382.65H1584.0ZM1596.8,1382.65H1609.8V1386.94H1596.8ZM1609.8,1386.94H1626.9V1391.23H1609.8ZM1626.9,1391.23H1639.8V1395.52H1626.9ZM1639.8,1395.52H1652.6V1399.80H1639.8ZM1652.6,1399.80H1661.1V1404.09H1652.6ZM1661.1,1404.09H1674.1V1408.38H1661.1ZM1674.1,1408.38H1686.8V1412.67H1674.1ZM1686.8,1412.67H1695.2V1416.95H1686.8ZM1695.2,1416.95H1708.2V1421.24H1695.2ZM1708.2,1421.24H1721.0V1425.53H1708.2ZM1721.0,1425.53H1738.3V1429.81H1721.0ZM1738.3,1429.81H1751.1V1434.10H1738.3ZM1751.1,1434.10H1764.2V1438.39H1751.1ZM1764.2,1438.39H1772.6V1442.68H1764.2ZM1772.6,1442.68H1785.4V1446.96H1772.6ZM1785.4,1446.96H1798.5V1451.25H1785.4ZM1798.5,1451.25H1807.1V1455.54H1798.5ZM1807.1,1455.54H1819.8V1459.83H1807.1ZM1819.8,1459.83H1832.8V1464.11H1819.8ZM1832.8,1464.11H1849.9V1468.40H1832.8ZM1849.9,1468.40H1862.7V1472.69H1849.9ZM1862.7,1472.69H1875.6V1476.97H1862.7ZM1875.6,1476.97H1884.2V1481.26H1875.6ZM1884.2,1481.26H1897.0V1485.55H1884.2ZM1897.0,1485.55H1909.7V1489.84H1897.0ZM1909.7,1489.84H1918.3V1494.12H1909.7ZM1918.3,1494.12H1931.2V1498.41H1918.3ZM1931.2,1498.41H1944.0V1502.70H1931.2ZM1944.0,1502.70H1957.1V1506.99H1944.0ZM1957.1,1506.99H1969.9V1511.27H1957.1ZM1969.9,1511.27H1982.7V1515.56H1969.9ZM1982.7,1515.56H1991.2V1519.85H1982.7ZM1991.2,1519.85H2004.2V1524.13H1991.2ZM2004.2,1524.13H2017.0V1528.42H2004.2ZM2017.0,1528.42H2025.9V1532.71H2017.0ZM2025.9,1532.71H2038.7V1537.00H2025.9ZM2038.7,1537.00H2051.4V1541.28H2038.7ZM2051.4,1541.28H2064.2V1545.57H2051.4ZM2064.2,1545.57H2072.9V1549.86H2064.2ZM2072.9,1549.86H2085.7V1554.15H2072.9ZM2085.7,1554.15H2089.9V1558.43H2085.7Z" fill="#ff0000"/>
<g filter="url(#ct)" style="mix-blend-mode:multiply">
<text x="0" y="70.60" font-size="70.14" font-weight="bold" font-style="normal"><tspan x="682.82" textLength="276.16" lengthAdjust="spacingAndGlyphs">Outputs</tspan> <tspan x="978.11" textLength="130.07" lengthAdjust="spacingAndGlyphs">and</tspan> <tspan x="1120.02" textLength="340.75" lengthAdjust="spacingAndGlyphs">Imbalance</tspan> <tspan x="1476.65" textLength="364.95" lengthAdjust="spacingAndGlyphs">Monitoring</tspan></text>
<text x="0" y="1802.80" font-size="70.68" font-weight="bold" font-style="normal"><tspan x="857.26" textLength="308.70" lengthAdjust="spacingAndGlyphs">Standard</tspan> <tspan x="1181.67" textLength="317.03" lengthAdjust="spacingAndGlyphs">Deviation</tspan> <tspan x="1517.83" textLength="156.56" lengthAdjust="spacingAndGlyphs">(<tspan font-weight="normal">&#956;</tspan>m)</tspan></text>
<text transform="translate(91.10,0) rotate(-90)" x="0" y="0" font-size="75.75" font-weight="bold" font-style="normal"><tspan x="-1134.68" textLength="343.53" lengthAdjust="spacingAndGlyphs">Monitored</tspan> <tspan x="-773.30" textLength="177.98" lengthAdjust="spacingAndGlyphs">value</tspan></text>
<text transform="translate(194.10,0) rotate(-90)" x="0" y="0" font-size="75.62" font-weight="bold" font-style="normal"><tspan x="-966.70" textLength="86.47" lengthAdjust="spacingAndGlyphs">(a.</tspan> <tspan x="-859.54" textLength="92.45" lengthAdjust="spacingAndGlyphs">u.)</tspan></text>
<text x="0" y="204.20" font-size="66.30" font-weight="bold" font-style="italic"><tspan x="2166.72" textLength="249.04" lengthAdjust="spacingAndGlyphs">Legend:</tspan></text>
<text x="0" y="311.00" font-size="67.71" font-weight="normal" font-style="normal"><tspan x="2163.91" textLength="191.72" lengthAdjust="spacingAndGlyphs">Output</tspan> <tspan x="2373.37" textLength="27.30" lengthAdjust="spacingAndGlyphs">1</tspan></text>
<text x="0" y="477.70" font-size="67.29" font-weight="normal" font-style="normal"><tspan x="2163.91" textLength="191.72" lengthAdjust="spacingAndGlyphs">Output</tspan> <tspan x="2369.29" textLength="41.24" lengthAdjust="spacingAndGlyphs">2</tspan></text>
<text x="0" y="645.40" font-size="64.93" font-weight="normal" font-style="normal"><tspan x="2162.29" textLength="292.90" lengthAdjust="spacingAndGlyphs">Imbalance</tspan></text>
<text transform="translate(372.16,181.75) scale(0.7389,0.7155)" font-size="100" text-anchor="end">0.6</text>
<text transform="translate(372.16,340.38) scale(0.7389,0.7155)" font-size="100" text-anchor="end">0.5</text>
<text transform="translate(372.16,499.01) scale(0.7389,0.7155)" font-size="100" text-anchor="end">0.4</text>
<text transform="translate(372.16,657.64) scale(0.7389,0.7155)" font-size="100" text-anchor="end">0.3</text>
<text transform="translate(372.16,816.27) scale(0.7389,0.7155)" font-size="100" text-anchor="end">0.2</text>
<text transform="translate(372.16,979.18) scale(0.7389,0.7155)" font-size="100" text-anchor="end">0.1</text>
<text transform="translate(372.16,1137.81) scale(0.7389,0.7155)" font-size="100" text-anchor="end">0.0</text>
<text transform="translate(372.16,1296.44) scale(0.7389,0.7155)" font-size="100" text-anchor="end">-0.1</text>
<text transform="translate(372.16,1455.07) scale(0.7389,0.7155)" font-size="100" text-anchor="end">-0.2</text>
<text transform="translate(372.16,1613.70) scale(0.7389,0.7155)" font-size="100" text-anchor="end">-0.3</text>
<text transform="translate(390.39,1698.50) scale(0.7278,0.7169)" font-size="100">0.00</text>
<text transform="translate(939.16,1698.50) scale(0.7278,0.7169)" font-size="100">0.01</text>
<text transform="translate(1492.22,1698.50) scale(0.7278,0.7169)" font-size="100">0.02</text>
<text transform="translate(2040.99,1698.50) scale(0.7278,0.7169)" font-size="100">0.03</text>
</g>
<line x1="2201.4" y1="351.1" x2="2419.7" y2="351.1" stroke="#0000ff" stroke-width="4.4"/>
<line x1="2201.4" y1="518.5" x2="2419.7" y2="518.5" stroke="#00ff00" stroke-width="4.4" stroke-dasharray="34.2 29.8 34.4 25.6 34.8 29.8"/>
<line x1="2201.4" y1="685.5" x2="2419.7" y2="685.5" stroke="#ff0000" stroke-width="4.3"/>
</svg></body></html>
